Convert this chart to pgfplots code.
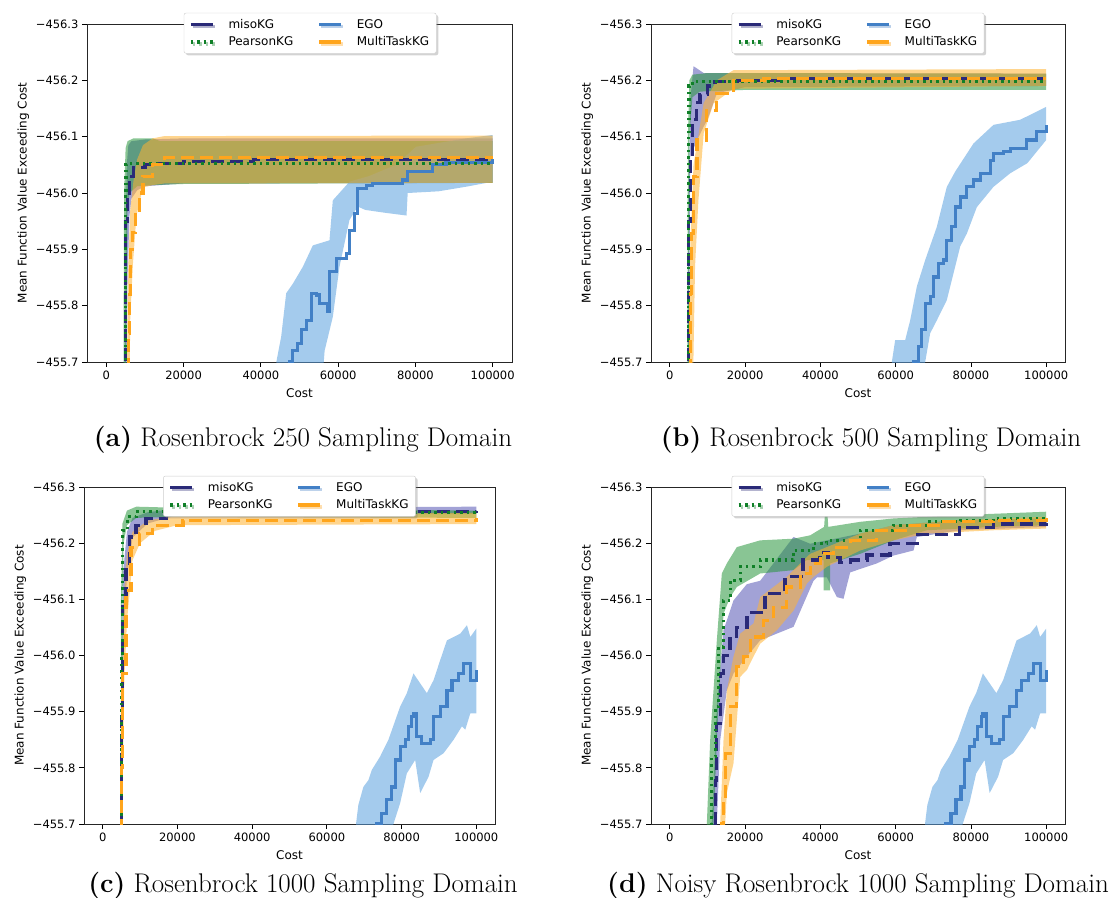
\documentclass[border=0pt]{standalone}
\usepackage{fontspec}
\usepackage{pgfplots}
\pgfplotsset{compat=1.18}
\usetikzlibrary{shadows}
\newfontfamily\dejavu{DejaVu Sans}

\definecolor{miso}{RGB}{42,42,120}
\definecolor{pear}{RGB}{16,128,40}
\definecolor{ego}{RGB}{66,128,198}
\definecolor{mtk}{RGB}{255,165,28}
\definecolor{misoband}{RGB}{85,85,180}
\definecolor{pearband}{RGB}{40,150,60}
\definecolor{egoband}{RGB}{90,160,222}
\definecolor{mtkband}{RGB}{255,178,50}

\pgfplotsset{
  panel/.style={
    scale only axis, anchor=south west, height=338pt,
    xmin=-5000, xmax=105000, ymin=-456.3, ymax=-455.7, y dir=reverse,
    xtick={0,20000,40000,60000,80000,100000},
    xticklabels={0,20000,40000,60000,80000,100000},
    scaled x ticks=false,
    ytick={-456.3,-456.2,-456.1,-456.0,-455.9,-455.8,-455.7},
    yticklabels={−456.3,−456.2,−456.1,−456.0,−455.9,−455.8,−455.7},
    tick pos=left, tick align=outside, major tick length=5pt,
    tick style={black, line width=0.8pt},
    axis line style={black!85, line width=0.9pt},
    tick label style={font=\dejavu\fontsize{11.5}{13}\selectfont},
    label style={font=\dejavu\fontsize{12}{14}\selectfont},
    xlabel={Cost}, ylabel={Mean Function Value Exceeding Cost},
    xlabel style={yshift=-2pt},
    legend columns=2, legend cell align=left,
    legend style={anchor=north, fill=white, draw=black!20, rounded corners=2pt,
      font=\dejavu\fontsize{12}{14}\selectfont,
      drop shadow={shadow xshift=2pt, shadow yshift=-2pt, opacity=0.35},
      inner xsep=5pt, inner ysep=4pt, row sep=3pt,
      /tikz/every odd column/.append style={column sep=12pt},
      /tikz/every even column/.append style={column sep=22pt}},
    legend image code/.code={\draw[#1] (0pt,0pt) -- (22pt,0pt);},
  },
  band/.style={draw=none, fill=#1, fill opacity=0.55, forget plot},
  mline/.style={miso, const plot, line width=3.2pt, dash pattern=on 13pt off 6pt, forget plot},
  pline/.style={pear, const plot, line width=3.2pt, dash pattern=on 2.5pt off 4pt, forget plot},
  eline/.style={ego, const plot, line width=3.2pt, forget plot},
  oline/.style={mtk, const plot, line width=3.2pt, dash pattern=on 13pt off 6pt, dash phase=9pt, forget plot},
}

\newcommand\leg{%
  \addlegendimage{miso, line width=3.5pt}\addlegendentry{misoKG}
  \addlegendimage{ego, line width=3.5pt}\addlegendentry{EGO}
  \addlegendimage{pear, line width=3.5pt, dash pattern=on 2.5pt off 4pt}\addlegendentry{PearsonKG}
  \addlegendimage{mtk, line width=3.5pt}\addlegendentry{MultiTaskKG}}

\begin{document}
\begin{tikzpicture}
\path[use as bounding box] (0,0) rectangle (1115pt,897pt);

% ---------------- (a) ----------------
\begin{axis}[panel, at={(87pt,535pt)}, width=425pt,
  legend style={at={(0.525,1.033)}}]
\leg
\addplot[band=misoband] coordinates {(4700,-455.6) (5000,-455.9) (5300,-456.05) (5700,-456.085) (6500,-456.092) (10000,-456.095) (20000,-456.097) (100000,-456.097)
  (100000,-456.018) (20000,-456.017) (10000,-456.012) (8000,-456.005) (6500,-455.99) (6000,-455.96) (5500,-455.85) (5100,-455.6)};
\addplot[band=pearband] coordinates {(4400,-455.6) (4600,-456.0) (5000,-456.08) (5500,-456.092) (7000,-456.097) (12000,-456.097) (14000,-456.092) (100000,-456.092)
  (100000,-456.018) (20000,-456.016) (12000,-456.014) (8000,-456.012) (6000,-456.0) (5500,-455.98) (5000,-455.6)};
\addplot[band=egoband] coordinates {(43500,-455.6) (44000,-455.70) (45259,-455.745) (46552,-455.822) (48276,-455.839) (50862,-455.869) (53448,-455.907) (57759,-455.916) (58621,-455.987) (62931,-456.020) (68000,-456.03) (75000,-456.05) (80172,-456.082) (87000,-456.09) (93103,-456.097) (100000,-456.103)
  (100000,-456.020) (93000,-456.011) (86000,-456.003) (78000,-456.0) (77700,-455.96) (72000,-455.965) (67000,-455.97) (65086,-455.976) (62931,-455.952) (60345,-455.869) (58621,-455.78) (56500,-455.72) (55172,-455.6)};
\addplot[band=mtkband] coordinates {(5200,-455.6) (5600,-455.85) (6200,-455.97) (7000,-456.02) (8000,-456.06) (9500,-456.085) (12000,-456.097) (15000,-456.101) (100000,-456.102)
  (100000,-456.018) (15000,-456.017) (12000,-456.014) (9500,-456.010) (7800,-455.96) (6900,-455.875) (6200,-455.78) (5900,-455.6)};
\addplot[eline] coordinates {(47000,-455.6) (47414,-455.70) (48276,-455.721) (49569,-455.733) (50431,-455.757) (51724,-455.774) (53017,-455.822) (54310,-455.819) (55172,-455.804) (57328,-455.789) (57759,-455.860) (59483,-455.884) (62069,-455.893) (62931,-455.934) (64224,-455.964) (65086,-456.008) (67241,-456.014) (68966,-456.017) (76724,-456.023) (78017,-456.038) (84483,-456.050) (87931,-456.054) (100000,-456.060)};
\addplot[mline] coordinates {(5000,-455.6) (5000,-455.95) (5500,-456.0) (6000,-456.03) (7000,-456.045) (10000,-456.05) (12000,-456.052) (20000,-456.056) (38000,-456.06) (100000,-456.06)};
\addplot[pline] coordinates {(4800,-455.6) (4900,-456.0) (5100,-456.05) (6000,-456.053) (100000,-456.053)};
\addplot[oline] coordinates {(5500,-455.6) (5800,-455.75) (6000,-455.82) (6300,-455.90) (6800,-455.93) (7500,-455.97) (8500,-456.0) (9500,-456.03) (12000,-456.05) (15000,-456.063) (100000,-456.063)};
\end{axis}

% ---------------- (b) ----------------
\begin{axis}[panel, at={(651pt,535pt)}, width=414pt,
  legend style={at={(0.5,1.033)}}]
\leg
\addplot[band=misoband] coordinates {(4800,-455.6) (5000,-456.0) (5500,-456.17) (6300,-456.225) (7000,-456.222) (9000,-456.213) (15000,-456.213) (100000,-456.212)
  (100000,-456.19) (20000,-456.188) (12500,-456.177) (10000,-456.13) (9000,-456.118) (7000,-456.09) (5400,-456.064) (5200,-455.8) (5100,-455.6)};
\addplot[band=pearband] coordinates {(4600,-455.6) (4800,-456.1) (5200,-456.2) (6000,-456.21) (10000,-456.213) (100000,-456.212)
  (100000,-456.183) (20000,-456.183) (8000,-456.18) (6000,-456.17) (5200,-456.1) (5000,-455.6)};
\addplot[band=egoband] coordinates {(58991,-455.6) (58991,-455.70) (59876,-455.739) (62533,-455.739) (63862,-455.774) (65633,-455.834) (67848,-455.881) (70948,-455.940) (73605,-456.011) (75819,-456.038) (80691,-456.088) (86005,-456.121) (93091,-456.130) (100000,-456.153)
  (100000,-456.094) (95000,-456.053) (90434,-456.035) (86005,-456.011) (81577,-455.975) (78919,-455.928) (77148,-455.905) (73605,-455.810) (70948,-455.774) (69176,-455.751) (67848,-455.70) (67848,-455.6)};
\addplot[band=mtkband] coordinates {(5000,-455.6) (5400,-455.9) (6300,-456.05) (9000,-456.16) (12500,-456.2) (16900,-456.218) (100000,-456.22)
  (100000,-456.19) (16900,-456.185) (11600,-456.159) (9000,-456.106) (7600,-455.987) (6700,-455.869) (6000,-455.6)};
\addplot[eline] coordinates {(64500,-455.6) (64747,-455.70) (66076,-455.727) (66962,-455.757) (67848,-455.804) (69176,-455.816) (70062,-455.851) (71391,-455.875) (72719,-455.881) (73605,-455.916) (74934,-455.940) (75819,-455.975) (77148,-455.993) (78919,-456.011) (80691,-456.023) (82462,-456.035) (85120,-456.058) (86005,-456.070) (88663,-456.073) (90434,-456.079) (93091,-456.079) (94863,-456.094) (97520,-456.109) (100000,-456.121)};
\addplot[mline] coordinates {(5000,-455.6) (5000,-455.95) (5400,-456.06) (6000,-456.13) (7000,-456.16) (8000,-456.175) (10000,-456.19) (12000,-456.198) (18000,-456.2) (30000,-456.203) (100000,-456.203)};
\addplot[pline] coordinates {(4800,-455.6) (4900,-456.1) (5100,-456.19) (6000,-456.198) (100000,-456.198)};
\addplot[oline] coordinates {(5000,-455.6) (5400,-455.822) (5850,-455.928) (6300,-456.029) (7200,-456.094) (9800,-456.147) (12500,-456.177) (16900,-456.2) (25000,-456.203) (100000,-456.203)};
\end{axis}

% ---------------- (c) ----------------
\begin{axis}[panel, at={(84pt,73pt)}, width=411pt, height=337pt,
  legend style={at={(0.5,1.033)}}]
\leg
\addplot[band=misoband] coordinates {(4900,-455.6) (5100,-456.0) (5500,-456.15) (6500,-456.22) (8000,-456.245) (12000,-456.255) (20000,-456.262) (100000,-456.265)
  (100000,-456.252) (20000,-456.25) (12000,-456.235) (8000,-456.21) (6500,-456.14) (5800,-456.06) (5300,-455.9) (5200,-455.6)};
\addplot[band=pearband] coordinates {(4800,-455.6) (4900,-456.1) (5300,-456.235) (6500,-456.258) (9000,-456.265) (20000,-456.263) (100000,-456.258)
  (100000,-456.245) (20000,-456.247) (9000,-456.245) (6500,-456.232) (5600,-456.2) (5300,-456.1) (5100,-455.6)};
\addplot[band=egoband] coordinates {(67800,-455.6) (67800,-455.70) (68426,-455.734) (69767,-455.766) (71109,-455.778) (72004,-455.796) (74240,-455.820) (76476,-455.850) (79606,-455.909) (81395,-455.933) (83184,-455.968) (86762,-455.933) (88551,-455.956) (90340,-455.992) (92129,-456.027) (95707,-456.039) (97496,-456.054) (98390,-456.033) (100000,-456.048)
  (100000,-455.897) (98390,-455.897) (97048,-455.868) (96154,-455.874) (93918,-455.850) (91234,-455.826) (88551,-455.814) (87209,-455.784) (84973,-455.755) (83631,-455.814) (81395,-455.790) (79606,-455.737) (77818,-455.70) (77818,-455.6)};
\addplot[band=mtkband] coordinates {(4900,-455.6) (5100,-455.9) (5600,-456.1) (6500,-456.18) (8000,-456.22) (12000,-456.24) (20000,-456.25) (100000,-456.254)
  (100000,-456.234) (20000,-456.232) (14000,-456.222) (10000,-456.2) (8000,-456.17) (6500,-456.06) (5800,-455.96) (5300,-455.75) (5200,-455.6)};
\addplot[eline] coordinates {(73345,-455.6) (73345,-455.70) (74687,-455.719) (76029,-455.743) (77370,-455.766) (78265,-455.814) (79606,-455.838) (80948,-455.850) (81843,-455.874) (82737,-455.891) (83184,-455.897) (84079,-455.856) (85420,-455.843) (87657,-455.850) (88551,-455.891) (90340,-455.909) (92129,-455.938) (93470,-455.956) (95259,-455.968) (96601,-455.986) (97500,-455.986) (98390,-455.956) (100000,-455.974)};
\addplot[mline] coordinates {(5000,-455.6) (5000,-455.9) (5400,-456.087) (6260,-456.158) (7150,-456.211) (8900,-456.232) (11600,-456.244) (17000,-456.256) (100000,-456.258)};
\addplot[pline] coordinates {(4900,-455.6) (5000,-456.0) (5400,-456.223) (6700,-456.247) (8900,-456.256) (30000,-456.255) (100000,-456.251)};
\addplot[oline] coordinates {(5000,-455.6) (5000,-455.8) (5400,-455.968) (6260,-456.116) (7600,-456.193) (9840,-456.217) (13400,-456.232) (21500,-456.241) (100000,-456.244)};
\end{axis}

% ---------------- (d) ----------------
\begin{axis}[panel, at={(651pt,73pt)}, width=414pt, height=337pt,
  legend style={at={(0.5,1.033)}}]
\leg
\addplot[band=misoband] coordinates {(11000,-455.6) (11160,-455.70) (12489,-455.909) (14260,-456.045) (16917,-456.098) (20460,-456.127) (24004,-456.133) (32861,-456.211) (37290,-456.199) (41718,-456.205) (50576,-456.217) (59433,-456.232) (77148,-456.241) (100000,-456.244)
  (100000,-456.229) (77148,-456.223) (65633,-456.211) (64747,-456.187) (59433,-456.178) (55004,-456.164) (47918,-456.148) (46147,-456.101) (44375,-456.104) (41718,-456.139) (39062,-456.139) (38176,-456.133) (32861,-456.051) (24004,-456.027) (20460,-455.998) (16917,-455.968) (15146,-455.938) (13375,-455.849) (12489,-455.70) (12489,-455.6)};
\addplot[band=pearband] coordinates {(9700,-455.6) (9832,-455.70) (10717,-455.849) (12489,-456.027) (13818,-456.146) (15146,-456.164) (17803,-456.193) (24004,-456.205) (32861,-456.208) (37290,-456.214) (41000,-456.229) (41200,-456.25) (41900,-456.25) (42100,-456.229) (50576,-456.238) (59433,-456.244) (77148,-456.250) (100000,-456.256)
  (100000,-456.232) (86005,-456.229) (68290,-456.223) (59433,-456.205) (50576,-456.181) (42603,-456.164) (42603,-456.116) (40832,-456.116) (40832,-456.170) (36404,-456.170) (32861,-456.152) (24004,-456.146) (17803,-456.122) (16032,-456.104) (14260,-456.074) (13375,-455.968) (12489,-455.849) (11603,-455.70) (11603,-455.6)};
\addplot[band=egoband] coordinates {(67800,-455.6) (67800,-455.70) (68426,-455.734) (69767,-455.766) (71109,-455.778) (72004,-455.796) (74240,-455.820) (76476,-455.850) (79606,-455.909) (81395,-455.933) (83184,-455.968) (86762,-455.933) (88551,-455.956) (90340,-455.992) (92129,-456.027) (95707,-456.039) (97496,-456.054) (98390,-456.033) (100000,-456.048)
  (100000,-455.897) (98390,-455.897) (97048,-455.868) (96154,-455.874) (93918,-455.850) (91234,-455.826) (88551,-455.814) (87209,-455.784) (84973,-455.755) (83631,-455.814) (81395,-455.790) (79606,-455.737) (77818,-455.70) (77818,-455.6)};
\addplot[band=mtkband] coordinates {(13200,-455.6) (13375,-455.70) (14260,-455.849) (15146,-455.938) (16917,-455.998) (18689,-456.039) (22232,-456.057) (24004,-456.104) (27546,-456.122) (31090,-456.140) (33747,-456.158) (37290,-456.181) (41718,-456.193) (50576,-456.217) (59433,-456.232) (77148,-456.241) (100000,-456.247)
  (100000,-456.226) (86005,-456.223) (68290,-456.217) (59433,-456.205) (50576,-456.187) (41718,-456.158) (38176,-456.140) (36404,-456.128) (32861,-456.080) (28433,-456.045) (24004,-456.021) (22232,-455.998) (20460,-455.974) (18689,-455.962) (16917,-455.808) (15146,-455.755) (14703,-455.70) (14703,-455.6)};
\addplot[eline] coordinates {(73345,-455.6) (73345,-455.70) (74687,-455.719) (76029,-455.743) (77370,-455.766) (78265,-455.814) (79606,-455.838) (80948,-455.850) (81843,-455.874) (82737,-455.891) (83184,-455.897) (84079,-455.856) (85420,-455.843) (87657,-455.850) (88551,-455.891) (90340,-455.909) (92129,-455.938) (93470,-455.956) (95259,-455.968) (96601,-455.986) (97500,-455.986) (98390,-455.956) (100000,-455.974)};
\addplot[mline] coordinates {(11500,-455.6) (11603,-455.70) (12046,-455.778) (12489,-455.879) (13375,-455.968) (14260,-456.0) (16000,-456.03) (17800,-456.05) (20500,-456.076) (25300,-456.111) (30600,-456.140) (35400,-456.170) (39900,-456.184) (42000,-456.175) (45200,-456.165) (48000,-456.17) (52400,-456.179) (58500,-456.200) (65700,-456.215) (77000,-456.228) (86000,-456.234) (100000,-456.236)};
\addplot[pline] coordinates {(10200,-455.6) (10275,-455.70) (11160,-455.820) (12046,-455.909) (12932,-456.015) (14260,-456.098) (16032,-456.134) (18689,-456.158) (24004,-456.170) (32861,-456.187) (38176,-456.199) (41718,-456.205) (50576,-456.223) (59433,-456.232) (68290,-456.238) (77148,-456.241) (86005,-456.244) (100000,-456.247)};
\addplot[oline] coordinates {(13700,-455.6) (13818,-455.70) (14260,-455.743) (14703,-455.826) (16032,-455.909) (17803,-455.980) (19575,-455.998) (21346,-456.033) (24889,-456.063) (27546,-456.086) (31090,-456.122) (34633,-456.146) (37290,-456.164) (39947,-456.181) (43489,-456.193) (47918,-456.205) (55004,-456.223) (63862,-456.232) (72719,-456.238) (86005,-456.241) (100000,-456.244)};
\end{axis}

% captions
\node[anchor=base, font=\fontsize{27}{32}\selectfont] at (303pt,450pt) {\textbf{(a)} Rosenbrock 250 Sampling Domain};
\node[anchor=base, font=\fontsize{27}{32}\selectfont] at (871pt,450pt) {\textbf{(b)} Rosenbrock 500 Sampling Domain};
\node[anchor=base, font=\fontsize{27}{32}\selectfont] at (303pt,5pt) {\textbf{(c)} Rosenbrock 1000 Sampling Domain};
\node[anchor=base, font=\fontsize{27}{32}\selectfont] at (858pt,5pt) {\textbf{(d)} Noisy Rosenbrock 1000 Sampling Domain};
\end{tikzpicture}
\end{document}
